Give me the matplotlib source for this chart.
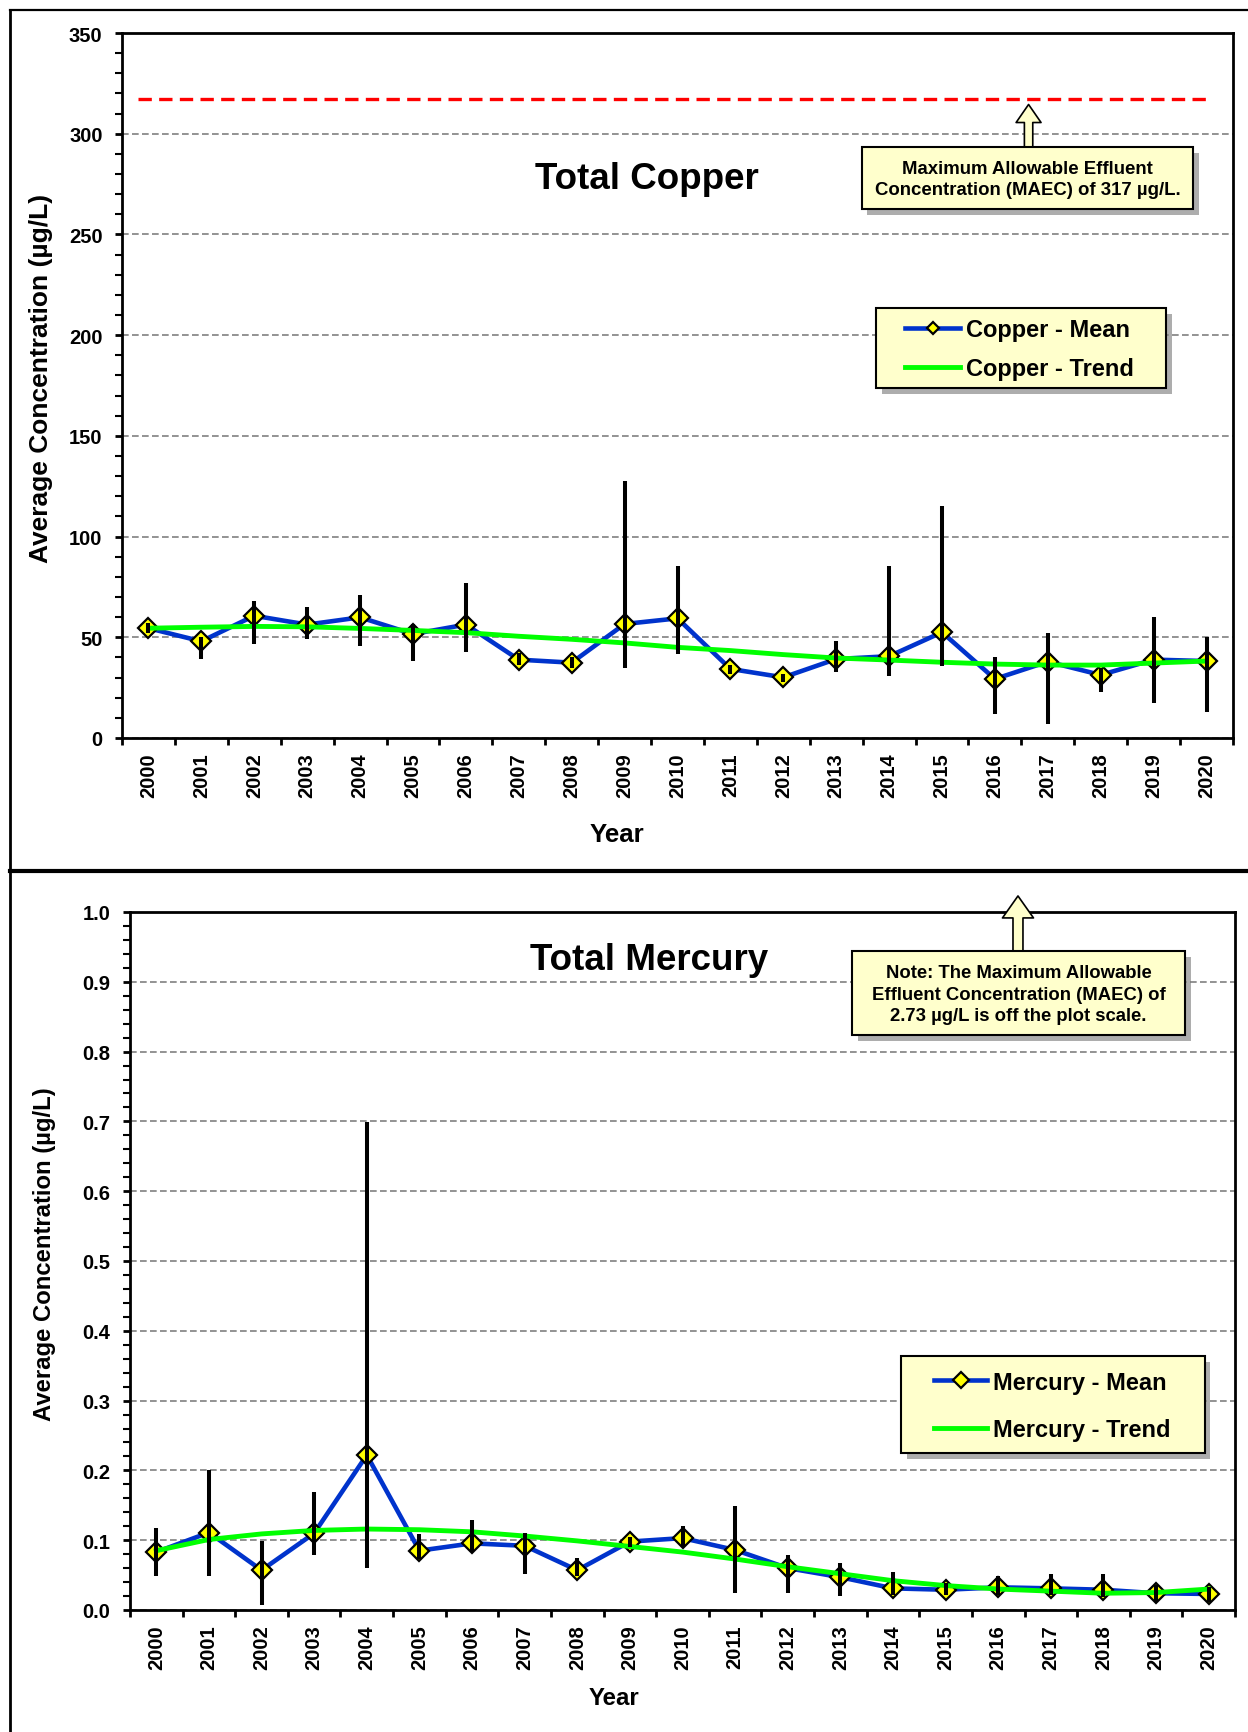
import matplotlib
matplotlib.use('Agg')
import matplotlib.pyplot as plt
import numpy as np
from matplotlib.lines import Line2D
from matplotlib.patches import Rectangle
import matplotlib.patheffects as pe
from matplotlib.ticker import MultipleLocator, FormatStrFormatter

plt.rcParams['font.family'] = ['Liberation Sans', 'DejaVu Sans']
plt.rcParams['font.weight'] = 'bold'

# ---------------- data ----------------
years = list(range(2000, 2021))

copper_mean = [54.5, 48.0, 60.7, 56.3, 59.9, 51.6, 56.3, 38.9, 37.4, 56.6, 59.4,
               34.3, 30.1, 39.2, 40.6, 52.5, 29.3, 37.9, 31.3, 38.9, 38.2]
copper_low = [52.0, 39.2, 46.8, 49.2, 45.8, 38.4, 42.9, 36.0, 35.0, 34.9, 41.9,
              32.0, 28.0, 32.9, 30.6, 35.6, 11.7, 6.8, 23.0, 17.2, 12.8]
copper_high = [57.0, 50.0, 68.0, 64.9, 71.0, 56.6, 77.0, 42.0, 40.0, 127.8, 85.6,
               36.0, 32.0, 48.3, 85.6, 115.0, 40.1, 52.0, 35.0, 59.9, 50.3]
copper_trend = [54.5, 55.0, 55.4, 55.2, 54.4, 53.4, 52.3, 50.5, 49.0, 47.2, 45.0,
                43.4, 41.4, 39.7, 38.7, 37.6, 36.7, 36.2, 36.2, 37.2, 38.2]
copper_maec = 317

mercury_mean = [0.083, 0.111, 0.057, 0.110, 0.222, 0.085, 0.0955, 0.092, 0.057, 0.098, 0.103,
                0.086, 0.060, 0.047, 0.031, 0.029, 0.0325, 0.031, 0.029, 0.024, 0.023]
mercury_low = [0.049, 0.049, 0.007, 0.079, 0.060, 0.073, 0.083, 0.052, 0.049, 0.090, 0.090,
               0.025, 0.025, 0.020, 0.021, 0.021, 0.021, 0.021, 0.019, 0.011, 0.011]
mercury_high = [0.117, 0.200, 0.099, 0.169, 0.699, 0.109, 0.129, 0.110, 0.074, 0.105, 0.121,
                0.149, 0.079, 0.068, 0.054, 0.038, 0.049, 0.052, 0.052, 0.036, 0.033]
mercury_trend = [0.085, 0.101, 0.109, 0.114, 0.116, 0.115, 0.112, 0.106, 0.099, 0.091, 0.083,
                 0.073, 0.062, 0.052, 0.042, 0.035, 0.030, 0.027, 0.024, 0.025, 0.030]
mercury_maec = 2.73

# ---------------- style ----------------
BLUE = '#0033CC'
GREEN = '#00FF00'
YELLOW = '#FFFF00'
PALE = '#FFFFCC'
GRID = '#808080'
SHADOW = [pe.SimplePatchShadow(offset=(4, -4), shadow_rgbFace='#777777', alpha=0.6), pe.Normal()]

W, H = 1248, 1733
fig = plt.figure(figsize=(W / 100, H / 100), dpi=100)


def axes_rect(left, top, right, bottom):
    return [left / W, 1 - bottom / H, (right - left) / W, (bottom - top) / H]


def draw_panel(ax, mean, low, high, trend, name, ymax, ymajor, yminor, yfmt):
    x = np.arange(len(years))
    ax.set_axisbelow(True)
    ax.yaxis.grid(True, which='major', color=GRID, lw=1.2, ls=(0, (4, 2)))
    ax.plot(x, mean, color=BLUE, lw=3.3, marker='D', ms=10, mfc=YELLOW,
            mec='black', mew=1.6, zorder=3, label=f'{name} - Mean')
    ax.plot(x, trend, color=GREEN, lw=3.5, zorder=4, label=f'{name} - Trend')
    ax.vlines(x, low, high, color='black', lw=2.9, zorder=5)

    ax.set_xlim(-0.5, len(years) - 0.5)
    ax.set_xticks(x)
    ax.set_xticklabels([str(y) for y in years], rotation=90)
    ax.set_xticks(np.arange(-0.5, len(years)), minor=True)
    ax.tick_params(axis='x', which='major', length=0, pad=10.5, labelsize=14.5)
    ax.tick_params(axis='x', which='minor', length=5, width=2, direction='out')

    ax.set_ylim(0, ymax)
    ax.yaxis.set_major_locator(MultipleLocator(ymajor))
    ax.yaxis.set_minor_locator(MultipleLocator(yminor))
    ax.yaxis.set_major_formatter(FormatStrFormatter(yfmt))
    ax.tick_params(axis='y', which='major', length=5, width=2, pad=9, labelsize=14.5)
    ax.tick_params(axis='y', which='minor', length=5, width=1.5)
    for lab in ax.get_xticklabels() + ax.get_yticklabels():
        lab.set_fontweight('bold')
    for sp in ax.spines.values():
        sp.set_linewidth(2)


def legend_box(ax, rect, anchor, fontsize, handlelength, labelspacing, markerscale):
    r = Rectangle(rect[:2], rect[2], rect[3], transform=ax.transAxes, fc=PALE,
                  ec='black', lw=1.5, zorder=6)
    r.set_path_effects(SHADOW)
    ax.add_patch(r)
    leg = ax.legend(loc='upper left', bbox_to_anchor=anchor, frameon=False,
                    handlelength=handlelength, handletextpad=0.25,
                    labelspacing=labelspacing, borderpad=0, borderaxespad=0,
                    markerscale=markerscale, prop={'weight': 'bold', 'size': fontsize})
    leg.set_zorder(7)
    return leg


def note_box(ax, rect, text, text_y, arrow_x, tip, tip_coords, fontsize, linespacing,
             arrowstyle, shrinkB):
    x0, y0, x1, y1 = rect
    # arrow from box top to the target
    ax.annotate('', xy=tip, xycoords=tip_coords,
                xytext=(arrow_x, y1), textcoords='axes fraction',
                annotation_clip=False, zorder=8,
                arrowprops=dict(arrowstyle=arrowstyle, fc=PALE, ec='black', lw=1.2,
                                shrinkA=0, shrinkB=shrinkB, mutation_scale=fontsize))
    r = Rectangle((x0, y0), x1 - x0, y1 - y0, transform=ax.transAxes, fc=PALE,
                  ec='black', lw=1.5, zorder=9, clip_on=False)
    r.set_path_effects(SHADOW)
    ax.add_patch(r)
    ax.text((x0 + x1) / 2, text_y, text, transform=ax.transAxes, ha='center',
            va='center', multialignment='center', fontsize=fontsize, fontweight='bold',
            linespacing=linespacing, zorder=10)


# ---------------- Copper ----------------
ax1 = fig.add_axes(axes_rect(122, 34, 1233, 739))
draw_panel(ax1, copper_mean, copper_low, copper_high, copper_trend, 'Copper',
           350, 50, 10, '%d')
ax1.axhline(copper_maec, xmin=0.0144, xmax=0.980, color='#FF0000', lw=2.4,
            ls=(0, (4, 2.2)), zorder=3)
ax1.text(0.472, 0.794, 'Total Copper', transform=ax1.transAxes, ha='center',
         va='center', fontsize=26.5, fontweight='bold')
ax1.set_ylabel('Average Concentration (µg/L)', fontsize=19, fontweight='bold', va='center')
ax1.yaxis.set_label_coords(-0.0729, 0.511)
ax1.set_xlabel('Year', fontsize=18.6, fontweight='bold', va='center')
ax1.xaxis.set_label_coords(0.4455, -0.1356)
legend_box(ax1, (0.6787, 0.4965, 0.2610, 0.1134), (0.7048, 0.596), 17, 2.33, 0.70, 0.6)
note_box(ax1, (0.666, 0.7504, 0.964, 0.8383),
         f'Maximum Allowable Effluent\nConcentration (MAEC) of {copper_maec} µg/L.',
         0.793, 0.816, (0.816, copper_maec), ('axes fraction', 'data'), 13.4, 1.3,
         'simple,head_length=0.97,head_width=1.34,tail_width=0.45', 3.6)

# ---------------- Mercury ----------------
ax2 = fig.add_axes(axes_rect(130, 913, 1235, 1611))
draw_panel(ax2, mercury_mean, mercury_low, mercury_high, mercury_trend, 'Mercury',
           1.0, 0.1, 0.02, '%.1f')
ax2.text(0.4697, 0.932, 'Total Mercury', transform=ax2.transAxes, ha='center',
         va='center', fontsize=26.5, fontweight='bold')
ax2.set_ylabel('Average Concentration (µg/L)', fontsize=17.2, fontweight='bold', va='center')
ax2.yaxis.set_label_coords(-0.0778, 0.511)
ax2.set_xlabel('Year', fontsize=17.3, fontweight='bold', va='center')
ax2.xaxis.set_label_coords(0.438, -0.126)
legend_box(ax2, (0.6977, 0.2249, 0.2751, 0.139), (0.7276, 0.343), 17, 2.25, 1.04, 0.8)
note_box(ax2, (0.6534, 0.8238, 0.9548, 0.9441),
         f'Note: The Maximum Allowable\nEffluent Concentration (MAEC) of\n{mercury_maec} µg/L is off the plot scale.',
         0.8825, 0.8036, (0.8036, 1.023), 'axes fraction', 13.3, 1.38,
         'simple,head_length=1.19,head_width=1.68,tail_width=0.54', 0)

# ---------------- outer frame ----------------
fx = 10.3 / W
fig.add_artist(Line2D([fx, fx], [0, 1 - 11 / H], transform=fig.transFigure, color='black', lw=2))
fig.add_artist(Line2D([fx, 1], [1 - 11 / H, 1 - 11 / H], transform=fig.transFigure, color='black', lw=1.6))
fig.add_artist(Line2D([fx, 1], [1 - 872 / H, 1 - 872 / H], transform=fig.transFigure, color='black', lw=3))

fig.savefig('out.png', dpi=100)
